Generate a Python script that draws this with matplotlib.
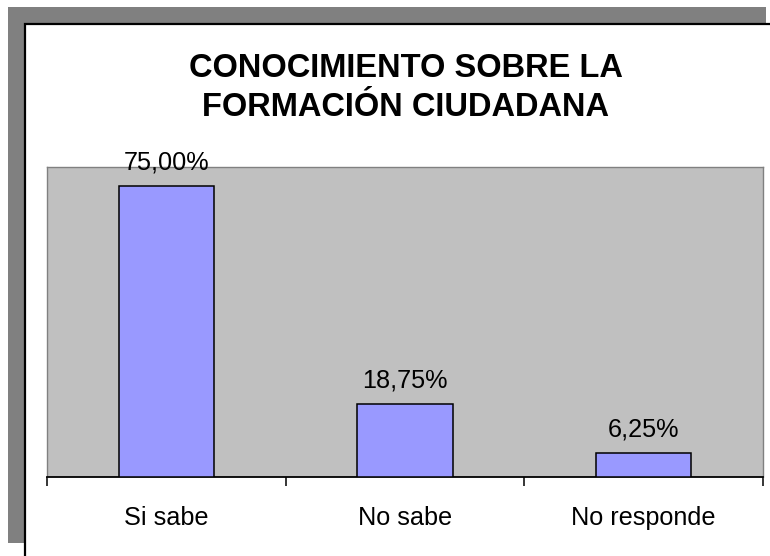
import matplotlib
matplotlib.use("Agg")
import matplotlib.pyplot as plt
from matplotlib.patches import Rectangle

# chart data
categories = ["Si sabe", "No sabe", "No responde"]
values = [75.00, 18.75, 6.25]

plt.rcParams['font.family'] = ['Liberation Sans', 'DejaVu Sans']

fig = plt.figure(figsize=(7.7, 5.56), dpi=100)
fig.patch.set_facecolor('white')

# shadow frame and white chart area
fig.patches.append(Rectangle((8 / 770, 1 - 543 / 556), 758 / 770, 536 / 556,
                             transform=fig.transFigure, facecolor='#808080',
                             edgecolor='none', zorder=0))
fig.patches.append(Rectangle((25 / 770, -0.1), 1.2, 1 - 24 / 556 + 0.1,
                             transform=fig.transFigure, facecolor='white',
                             edgecolor='black', linewidth=1.6, zorder=1))

ax = fig.add_axes([47 / 770, 1 - 477 / 556, 716 / 770, 310 / 556])
ax.set_zorder(5)
ax.set_facecolor('#C0C0C0')

x = range(len(categories))
bars = ax.bar(x, values, width=0.4, color='#9999FF', edgecolor='black',
              linewidth=1.1, zorder=3)

for xi, v in zip(x, values):
    ax.annotate(f"{v:.2f}".replace('.', ',') + '%', (xi, v),
                xytext=(0, 12), textcoords='offset points',
                ha='center', va='baseline', fontsize=18.2, color='black')

ax.set_xlim(-0.5, 2.5)
ax.set_ylim(0, 80)
ax.set_yticks([])

ax.set_xticks(list(x))
ax.set_xticklabels(categories, fontsize=18.2)
ax.tick_params(axis='x', which='major', length=0, pad=21)
ax.set_xticks([-0.5, 0.5, 1.5, 2.5], minor=True)
ax.tick_params(axis='x', which='minor', length=6.5, width=1.1,
               direction='out', color='black')

for side in ['top', 'left', 'right']:
    ax.spines[side].set_color('#808080')
    ax.spines[side].set_linewidth(1.0)
ax.spines['bottom'].set_color('black')
ax.spines['bottom'].set_linewidth(1.3)

fig.text(406 / 770, 1 - 77 / 556, "CONOCIMIENTO SOBRE LA", ha='center',
         va='baseline', fontsize=23.5, fontweight='bold', zorder=6)
fig.text(406 / 770, 1 - 116 / 556, "FORMACIÓN CIUDADANA", ha='center',
         va='baseline', fontsize=23.5, fontweight='bold', zorder=6)

fig.savefig("out.png", dpi=100, facecolor='white')
